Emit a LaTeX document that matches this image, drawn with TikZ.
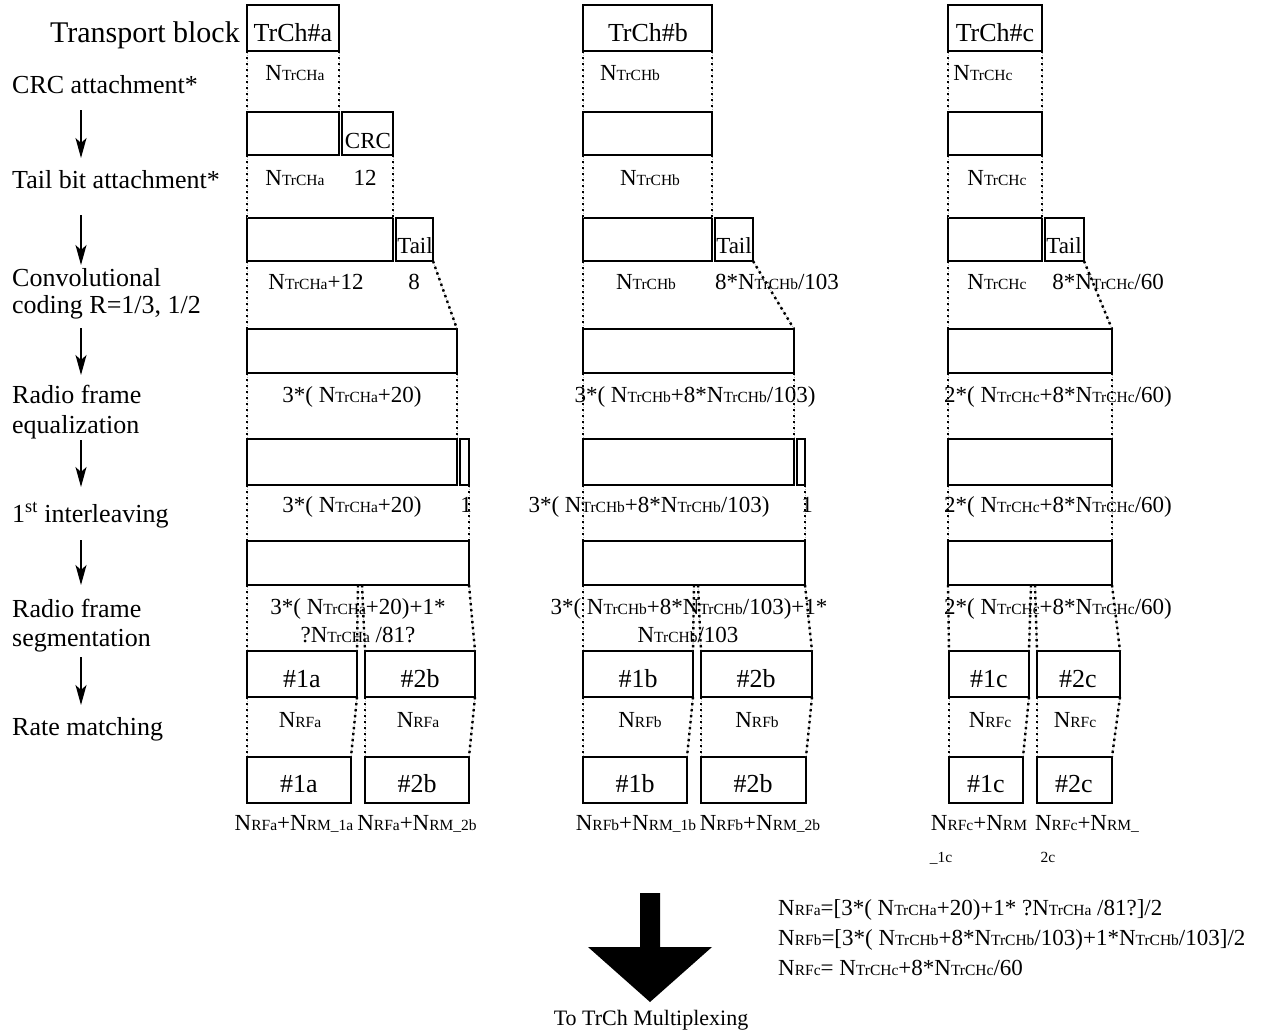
\documentclass[tikz,border=0pt]{standalone}
\usepackage{fontspec}
\setmainfont{Liberation Serif}
\usetikzlibrary{fit,arrows.meta}
\newcommand\fL{\fontsize{26}{28}\selectfont}
\newcommand\fT{\fontsize{30}{32}\selectfont}
\newcommand\fB{\fontsize{23}{24}\selectfont}
\newcommand\fN{\fontsize{23}{24}\selectfont}
\newcommand\fS{\fontsize{15.5}{16}\selectfont}
\newcommand\fM{\fontsize{22}{24}\selectfont}
\newcommand\sbs[1]{{\fS #1}}
\tikzset{
  box/.style={draw=black, line width=1.2pt, inner sep=0pt, outer sep=0pt, fill=white},
  guide/.style={draw=black, line width=2.4pt, dash pattern=on 2.4pt off 3.6pt,
    preaction={draw=gray!60, line width=0.8pt, dash pattern=on 1pt off 1pt}},
  lbl/.style={anchor=base, font=\fN, inner sep=0pt},
  side/.style={anchor=base west, font=\fL, inner sep=0pt, align=left},
  flow/.style={line width=1.4pt, -{Stealth[length=20pt,width=11pt,inset=5pt]}},
  intext/.style={anchor=base, inner sep=0pt}
}
\begin{document}
\begin{tikzpicture}[x=1pt,y=-1pt]
\fill[white] (0,0) rectangle (1262,1031);
\useasboundingbox (0,0) rectangle (1262,1031);

% ---------- left labels ----------
\node[anchor=base east, font=\fT, inner sep=0pt] (tb) at (240,42) {Transport block};
\node[side] (l1) at (12,93) {CRC attachment*};
\node[side] (l2) at (12,188) {Tail bit attachment*};
\node[side] (l3) at (12,286) {Convolutional};
\node[side] (l3b) at (12,313) {coding R=1/3, 1/2};
\node[side] (l4) at (12,403) {Radio frame};
\node[side] (l4b) at (12,433) {equalization};
\node[side] (l5) at (12,522) {1\textsuperscript{st} interleaving};
\node[side] (l6) at (12,617) {Radio frame};
\node[side] (l6b) at (12,646) {segmentation};
\node[side] (l7) at (12,735) {Rate matching};
\foreach \i/\ya/\yb in {1/110/158, 2/215/265, 3/328/375, 4/440/487, 5/540/585, 6/657/705}{
  \coordinate (fs\i) at (81,\ya);
  \coordinate (fe\i) at (81,\yb);
  \draw[flow] (fs\i) -- (fe\i);
}

% ---------- column a boxes ----------
\node[box, fit={(247,5) (339,51)}] (a1) {};
\node[box, fit={(247,112) (339,155)}] (a2l) {};
\node[box, fit={(342,112) (393,155)}] (a2r) {};
\node[box, fit={(247,218) (393,261)}] (a3l) {};
\node[box, fit={(396,218) (433,261)}] (a3r) {};
\node[box, fit={(247,329) (457,373)}] (a4) {};
\node[box, fit={(247,439) (457,485)}] (a5l) {};
\node[box, fit={(460,439) (469,485)}] (a5r) {};
\node[box, fit={(247,541) (469,585)}] (a6) {};
\node[box, fit={(247,651) (357,697)}] (a7l) {};
\node[box, fit={(365,651) (475,697)}] (a7r) {};
\node[box, fit={(247,757) (351,803)}] (a8l) {};
\node[box, fit={(365,757) (469,803)}] (a8r) {};
\coordinate (am1) at (358,585);
\coordinate (am2) at (362,585);

% ---------- column b boxes ----------
\node[box, fit={(583,5) (712,51)}] (b1) {};
\node[box, fit={(583,112) (712,155)}] (b2) {};
\node[box, fit={(583,218) (712,261)}] (b3l) {};
\node[box, fit={(715,218) (753,261)}] (b3r) {};
\node[box, fit={(583,329) (794,373)}] (b4) {};
\node[box, fit={(583,439) (794,485)}] (b5l) {};
\node[box, fit={(797,439) (805,485)}] (b5r) {};
\node[box, fit={(583,541) (805,585)}] (b6) {};
\node[box, fit={(583,651) (693,697)}] (b7l) {};
\node[box, fit={(701,651) (812,697)}] (b7r) {};
\node[box, fit={(583,757) (687,803)}] (b8l) {};
\node[box, fit={(701,757) (806,803)}] (b8r) {};
\coordinate (bm1) at (694,585);
\coordinate (bm2) at (698,585);

% ---------- column c boxes ----------
\node[box, fit={(948,5) (1042,51)}] (c1) {};
\node[box, fit={(948,112) (1042,155)}] (c2) {};
\node[box, fit={(948,218) (1042,261)}] (c3l) {};
\node[box, fit={(1045,218) (1084,261)}] (c3r) {};
\node[box, fit={(948,329) (1112,373)}] (c4) {};
\node[box, fit={(948,439) (1112,485)}] (c5) {};
\node[box, fit={(948,541) (1112,585)}] (c6) {};
\node[box, fit={(949,651) (1029,697)}] (c7l) {};
\node[box, fit={(1037,651) (1120,697)}] (c7r) {};
\node[box, fit={(949,757) (1023,803)}] (c8l) {};
\node[box, fit={(1037,757) (1112,803)}] (c8r) {};
\coordinate (cm1) at (1031,585);
\coordinate (cm2) at (1035,585);

% ---------- guides ----------
\draw[guide] (a1.south west) -- (a2l.north west);
\draw[guide] (a1.south east) -- (a2l.north east);
\draw[guide] (a2l.south west) -- (a3l.north west);
\draw[guide] (a2r.south east) -- (a3l.north east);
\draw[guide] (a3l.south west) -- (a4.north west);
\draw[guide] (a3r.south east) -- (a4.north east);
\draw[guide] (a4.south west) -- (a5l.north west);
\draw[guide] (a4.south east) -- (a5l.north east);
\draw[guide] (a5l.south west) -- (a6.north west);
\draw[guide] (a5r.south east) -- (a6.north east);
\draw[guide] (a6.south west) -- (a7l.north west);
\draw[guide] (am1) -- (a7l.north east);
\draw[guide] (am2) -- (a7r.north west);
\draw[guide] (a6.south east) -- (a7r.north east);
\draw[guide] (a7l.south west) -- (a8l.north west);
\draw[guide] (a7l.south east) -- (a8l.north east);
\draw[guide] (a7r.south west) -- (a8r.north west);
\draw[guide] (a7r.south east) -- (a8r.north east);

\draw[guide] (b1.south west) -- (b2.north west);
\draw[guide] (b1.south east) -- (b2.north east);
\draw[guide] (b2.south west) -- (b3l.north west);
\draw[guide] (b2.south east) -- (b3l.north east);
\draw[guide] (b3l.south west) -- (b4.north west);
\draw[guide] (b3r.south east) -- (b4.north east);
\draw[guide] (b4.south west) -- (b5l.north west);
\draw[guide] (b4.south east) -- (b5l.north east);
\draw[guide] (b5l.south west) -- (b6.north west);
\draw[guide] (b5r.south east) -- (b6.north east);
\draw[guide] (b6.south west) -- (b7l.north west);
\draw[guide] (bm1) -- (b7l.north east);
\draw[guide] (bm2) -- (b7r.north west);
\draw[guide] (b6.south east) -- (b7r.north east);
\draw[guide] (b7l.south west) -- (b8l.north west);
\draw[guide] (b7l.south east) -- (b8l.north east);
\draw[guide] (b7r.south west) -- (b8r.north west);
\draw[guide] (b7r.south east) -- (b8r.north east);

\draw[guide] (c1.south west) -- (c2.north west);
\draw[guide] (c1.south east) -- (c2.north east);
\draw[guide] (c2.south west) -- (c3l.north west);
\draw[guide] (c2.south east) -- (c3l.north east);
\draw[guide] (c3l.south west) -- (c4.north west);
\draw[guide] (c3r.south east) -- (c4.north east);
\draw[guide] (c4.south west) -- (c5.north west);
\draw[guide] (c4.south east) -- (c5.north east);
\draw[guide] (c5.south west) -- (c6.north west);
\draw[guide] (c5.south east) -- (c6.north east);
\draw[guide] (c6.south west) -- (c7l.north west);
\draw[guide] (cm1) -- (c7l.north east);
\draw[guide] (cm2) -- (c7r.north west);
\draw[guide] (c6.south east) -- (c7r.north east);
\draw[guide] (c7l.south west) -- (c8l.north west);
\draw[guide] (c7l.south east) -- (c8l.north east);
\draw[guide] (c7r.south west) -- (c8r.north west);
\draw[guide] (c7r.south east) -- (c8r.north east);

% ---------- texts inside boxes ----------
\node[intext, font=\fL] at (293,41) {TrCh\#a};
\node[intext, font=\fL] at (648,41) {TrCh\#b};
\node[intext, font=\fL] at (995,41) {TrCh\#c};
\node[intext, font=\fB] at (368,148) {CRC};
\node[intext, font=\fB] at (415,253) {Tail};
\node[intext, font=\fB] at (734,253) {Tail};
\node[intext, font=\fB] at (1064,253) {Tail};
\node[intext, font=\fL] at (302,687) {\#1a};
\node[intext, font=\fL] at (420,687) {\#2b};
\node[intext, font=\fL] at (299,792) {\#1a};
\node[intext, font=\fL] at (417,792) {\#2b};
\node[intext, font=\fL] at (638,687) {\#1b};
\node[intext, font=\fL] at (756,687) {\#2b};
\node[intext, font=\fL] at (635,792) {\#1b};
\node[intext, font=\fL] at (753,792) {\#2b};
\node[intext, font=\fL] at (989,687) {\#1c};
\node[intext, font=\fL] at (1078,687) {\#2c};
\node[intext, font=\fL] at (986,792) {\#1c};
\node[intext, font=\fL] at (1074,792) {\#2c};

% ---------- labels column a ----------
\node[lbl] at (295,80) {N\sbs{TrCHa}};
\node[lbl] at (295,185) {N\sbs{TrCHa}};
\node[lbl] at (365,185) {12};
\node[lbl] at (316,289) {N\sbs{TrCHa}+12};
\node[lbl] at (414,289) {8};
\node[lbl] at (352,402) {3*( N\sbs{TrCHa}+20)};
\node[lbl] at (352,512) {3*( N\sbs{TrCHa}+20)};
\node[lbl] at (466,512) {1};
\node[lbl] at (358,614) {3*( N\sbs{TrCHa}+20)+1*};
\node[lbl] at (358,642) {?N\sbs{TrCHa} /81?};
\node[lbl] at (300,727) {N\sbs{RFa}};
\node[lbl] at (418,727) {N\sbs{RFa}};
\node[lbl] at (294,830) {N\sbs{RFa}+N\sbs{RM\_1a}};
\node[lbl] at (417,830) {N\sbs{RFa}+N\sbs{RM\_2b}};

% ---------- labels column b ----------
\node[lbl] at (630,80) {N\sbs{TrCHb}};
\node[lbl] at (650,185) {N\sbs{TrCHb}};
\node[lbl] at (646,289) {N\sbs{TrCHb}};
\node[lbl] at (777,289) {8*N\sbs{TrCHb}/103};
\node[lbl] at (695,402) {3*( N\sbs{TrCHb}+8*N\sbs{TrCHb}/103)};
\node[lbl] at (649,512) {3*( N\sbs{TrCHb}+8*N\sbs{TrCHb}/103)};
\node[lbl] at (807,512) {1};
\node[lbl] at (689,614) {3*( N\sbs{TrCHb}+8*N\sbs{TrCHb}/103)+1*};
\node[lbl] at (688,642) {N\sbs{TrCHb}/103};
\node[lbl] at (640,727) {N\sbs{RFb}};
\node[lbl] at (757,727) {N\sbs{RFb}};
\node[lbl] at (636,830) {N\sbs{RFb}+N\sbs{RM\_1b}};
\node[lbl] at (760,830) {N\sbs{RFb}+N\sbs{RM\_2b}};

% ---------- labels column c ----------
\node[lbl] at (983,80) {N\sbs{TrCHc}};
\node[lbl] at (997,185) {N\sbs{TrCHc}};
\node[lbl] at (997,289) {N\sbs{TrCHc}};
\node[lbl] at (1108,289) {8*N\sbs{TrCHc}/60};
\node[lbl] at (1058,402) {2*( N\sbs{TrCHc}+8*N\sbs{TrCHc}/60)};
\node[lbl] at (1058,512) {2*( N\sbs{TrCHc}+8*N\sbs{TrCHc}/60)};
\node[lbl] at (1058,614) {2*( N\sbs{TrCHc}+8*N\sbs{TrCHc}/60)};
\node[lbl] at (990,727) {N\sbs{RFc}};
\node[lbl] at (1075,727) {N\sbs{RFc}};
\node[lbl] at (979,830) {N\sbs{RFc}+N\sbs{RM}};
\node[lbl] at (1087,830) {N\sbs{RFc}+N\sbs{RM\_}};
\node[intext, font=\fS] at (941,862) {\_1c};
\node[intext, font=\fS] at (1048,862) {2c};

% ---------- formulas ----------
\node[anchor=base west, font=\fN, inner sep=0pt] (f1) at (778,915) {N\sbs{RFa}=[3*( N\sbs{TrCHa}+20)+1* ?N\sbs{TrCHa} /81?]/2};
\node[anchor=base west, font=\fN, inner sep=0pt] (f2) at (778,945) {N\sbs{RFb}=[3*( N\sbs{TrCHb}+8*N\sbs{TrCHb}/103)+1*N\sbs{TrCHb}/103]/2};
\node[anchor=base west, font=\fN, inner sep=0pt] (f3) at (778,975) {N\sbs{RFc}= N\sbs{TrCHc}+8*N\sbs{TrCHc}/60};

% ---------- big arrow ----------
\fill[black] (640,893) -- (660,893) -- (660,947) -- (712,947) -- (650,1002) -- (588,947) -- (640,947) -- cycle;
\node[anchor=base, font=\fM, inner sep=0pt] (mux) at (651,1025) {To TrCh Multiplexing};
\end{tikzpicture}
\end{document}
